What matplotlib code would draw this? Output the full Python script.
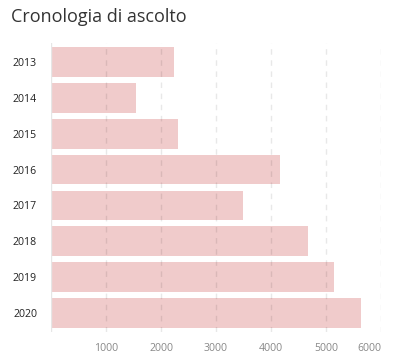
import matplotlib
matplotlib.use("Agg")
import matplotlib.pyplot as plt

years = ["2013", "2014", "2015", "2016", "2017", "2018", "2019", "2020"]
values = [2230, 1540, 2310, 4160, 3490, 4670, 5150, 5640]
xticks = [1000, 2000, 3000, 4000, 5000, 6000]
title = "Cronologia di ascolto"

plt.rcParams['font.family'] = ['Open Sans', 'DejaVu Sans']

fig = plt.figure(figsize=(3.95, 3.61), dpi=100)
ax = fig.add_axes([51/395, 1-332/361, (381-51)/395, (332-43)/361])

pos = list(range(len(years)))
ax.barh(pos, values, height=0.83, color='#f0cbcb', zorder=1)
ax.set_ylim(len(years) - 0.47, -0.53)
ax.set_xlim(0, 6000)

for x in xticks:
    ax.axvline(x, color=(0, 0, 0, 0.09), linestyle=(0, (4, 4)), linewidth=1, zorder=2)
ax.axvline(0, color='#e6e6e6', linewidth=1, zorder=2)

ax.set_yticks(pos)
ax.set_yticklabels(years, fontsize=7.6, color='#222222')
ax.set_xticks(xticks)
labels = ax.set_xticklabels([str(x) for x in xticks], fontsize=7.6, color='#888888')
labels[-1].set_horizontalalignment('right')
labels[-1].set_x(6000)
ax.tick_params(axis='both', length=0)
ax.tick_params(axis='y', pad=10)
ax.tick_params(axis='x', pad=8)
for s in ax.spines.values():
    s.set_visible(False)

fig.text(11/395, 1-17/361, title, fontsize=13, color='#333333', va='center', ha='left')

fig.savefig("out.png", dpi=100)
